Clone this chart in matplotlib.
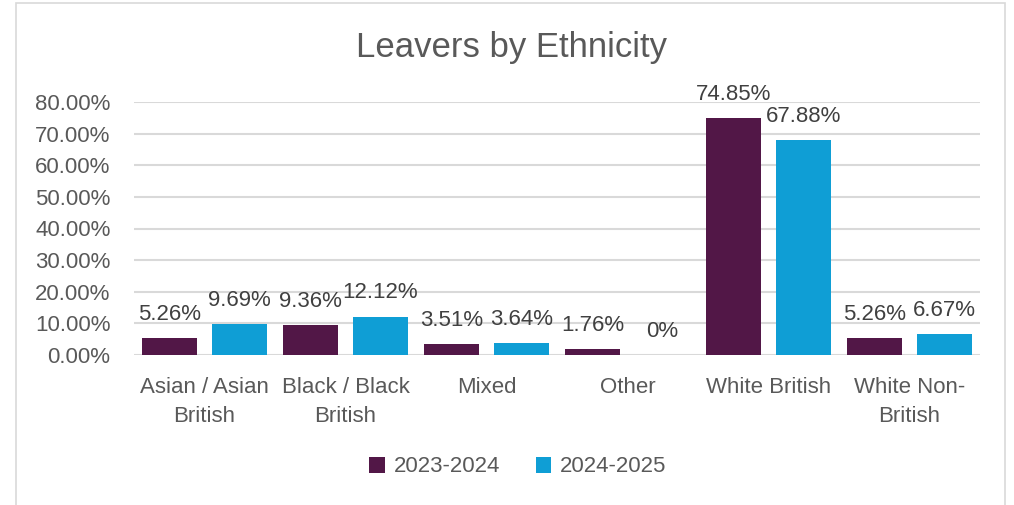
import matplotlib.pyplot as plt
import numpy as np
from matplotlib.patches import Rectangle
from matplotlib.ticker import PercentFormatter

plt.rcParams['font.family'] = ['Liberation Sans', 'DejaVu Sans']

categories = ["Asian / Asian\nBritish", "Black / Black\nBritish", "Mixed", "Other",
              "White British", "White Non-\nBritish"]
y2324 = [5.26, 9.36, 3.51, 1.76, 74.85, 5.26]
y2425 = [9.69, 12.12, 3.64, 0.0, 67.88, 6.67]
series_names = ["2023-2024", "2024-2025"]
labels2324 = ["5.26%", "9.36%", "3.51%", "1.76%", "74.85%", "5.26%"]
labels2425 = ["9.69%", "12.12%", "3.64%", "0%", "67.88%", "6.67%"]

purple = "#521747"
blue = "#0F9ED5"
grey_txt = "#595959"
fs = 16

fig = plt.figure(figsize=(10.14, 5.05), dpi=100)
# thin chart-area frame
fig.patches.append(Rectangle((16 / 1014, -0.01), 989 / 1014, 1 - 3 / 505 + 0.01,
                             transform=fig.transFigure, fill=False,
                             edgecolor="#d9d9d9", linewidth=1.2))

ax = fig.add_axes([134 / 1014, 1 - 355 / 505, 846 / 1014, 253 / 505])
x = np.arange(len(categories))
w = 0.39
off = 0.248
b1 = ax.bar(x - off, y2324, w, color=purple, label=series_names[0], zorder=3)
b2 = ax.bar(x + off, y2425, w, color=blue, label=series_names[1], zorder=3)

for bars, labs in ((b1, labels2324), (b2, labels2425)):
    for rect, lab in zip(bars, labs):
        ax.annotate(lab, (rect.get_x() + rect.get_width() / 2, rect.get_height()),
                    xytext=(0, 9.5), textcoords="offset points", ha="center", va="bottom",
                    fontsize=fs, color="#404040")

ax.set_xlim(-0.5, len(categories) - 0.5)
ax.set_ylim(0, 80)
ax.set_yticks(np.arange(0, 81, 10))
ax.yaxis.set_major_formatter(PercentFormatter(decimals=2))
ax.set_xticks(x)
ax.set_xticklabels(categories, fontsize=fs, color=grey_txt, linespacing=1.5)
ax.tick_params(axis="y", labelsize=fs, labelcolor=grey_txt, length=0, pad=17)
ax.tick_params(axis="x", length=0, pad=16)
ax.grid(axis="y", color="#d9d9d9", linewidth=1.5, zorder=0)
for s in ax.spines.values():
    s.set_visible(False)

fig.text(512 / 1014, 1 - 47 / 505, "Leavers by Ethnicity", fontsize=25,
         color=grey_txt, ha="center", va="center")

fig.legend(handles=[b1, b2], labels=series_names, loc="center", ncol=2,
           bbox_to_anchor=(518 / 1014, 1 - 467 / 505), frameon=False, fontsize=fs,
           labelcolor=grey_txt, handlelength=0.7, handleheight=0.7,
           handletextpad=0.4, columnspacing=1.6)

fig.savefig("out.png", dpi=100, facecolor="white")
